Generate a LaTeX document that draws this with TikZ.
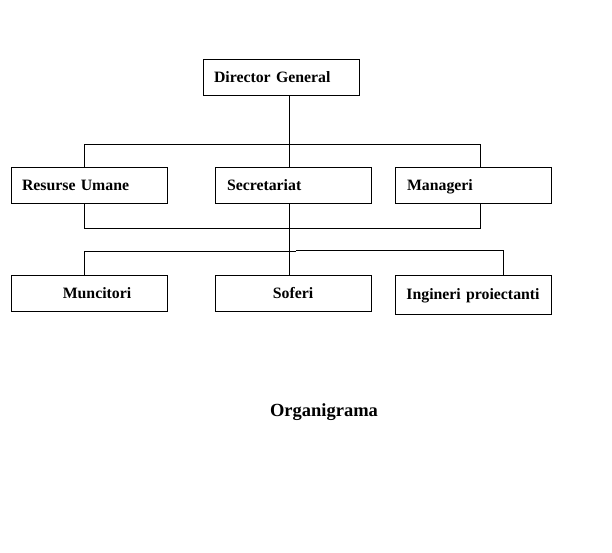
\documentclass[tikz,border=0pt]{standalone}
\usepackage{fontspec}
\setmainfont{Liberation Serif}
\begin{document}
\begin{tikzpicture}[x=1pt,y=-1pt,line width=1pt,
  box/.style={draw,rectangle,minimum width=156pt,minimum height=36pt,inner xsep=11pt,
    text width=134pt,text height=13pt,text depth=2pt,align=left,
    font=\fontsize{15.8}{18}\selectfont\bfseries},
  cbox/.style={box,align=center},
  conn/.style={draw,line width=1pt}]
\useasboundingbox (0,0) rectangle (612,552);
\node[box] (dg) at (281,77) {Director General};
\node[box] (ru) at (89,185) {Resurse Umane};
\node[box,inner xsep=12pt,text width=132pt] (sec) at (293,185) {Secretariat};
\node[box,inner xsep=12pt,text width=132pt] (mg) at (473,185) {Manageri};
\node[cbox] (mun) at (89,293) {\hspace*{16pt}Muncitori};
\node[cbox] (sof) at (293,293) {Soferi};
\node[cbox,minimum height=39pt,text height=12pt,text depth=3pt] (ing) at (473,294.5) {Ingineri proiectanti};
\node[font=\fontsize{18.5}{22}\selectfont\bfseries] (title) at (324,412) {Organigrama};
% top level
\draw[conn] ([xshift=8pt]dg.south) -- ([xshift=-4pt]sec.north);
\draw[conn] ([xshift=-5pt]ru.north) -- ++(0pt,22pt) -| ([xshift=7pt]mg.north);
% middle level
\draw[conn] ([xshift=-5pt]ru.south) -- ++(0pt,-25pt) -| ([xshift=7pt]mg.south);
\draw[conn] ([xshift=-4pt]sec.south) -- ([xshift=-4pt]sof.north);
% bottom level
\coordinate (step1) at (296,251);
\coordinate (step2) at (296,250);
\draw[conn] ([xshift=-5pt]mun.north) |- (step1);
\draw[conn] (step2) -| ([xshift=30pt]ing.north);
\end{tikzpicture}
\end{document}
